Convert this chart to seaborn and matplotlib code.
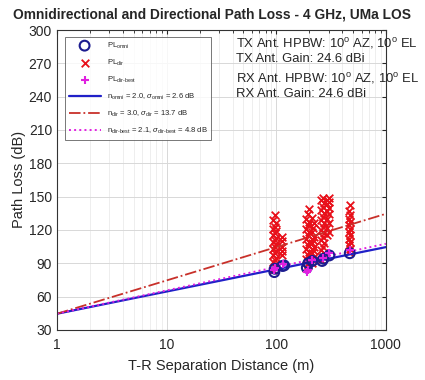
import numpy as np
import pandas as pd
import matplotlib
matplotlib.use('Agg')
import matplotlib.pyplot as plt
import matplotlib.ticker as mticker
import seaborn as sns

# measured omni path loss
omni_d = [96, 97, 114, 118, 190, 196, 213, 262, 270, 305, 468]
omni_pl = [82, 85, 87.5, 88, 86, 90, 92, 92, 94, 97, 99]

# best directional path loss
best_d = [95, 98, 115, 192, 196, 214, 265, 300, 470]
best_pl = [84, 86, 89, 82, 84, 93, 95, 99, 102]

# directional path loss (all pointing angles)
dir_d = ([94, 97, 99] * 8)[:23] + [114] * 5 + ([188, 193, 198] * 6) + ([210, 216, 222] * 5)[:13] \
    + ([258, 266, 274] * 7)[:20] + ([292, 300] * 6) + ([462, 468] * 7)
dir_pl = [84, 87, 89, 91, 93, 95, 97, 99, 101, 103, 105, 107, 109, 111, 113, 115, 117, 119, 121, 123, 126, 129, 133] \
    + [97, 101, 105, 110, 114] \
    + [86, 88, 91, 94, 97, 100, 103, 106, 109, 112, 115, 118, 121, 124, 127, 130, 134, 139] \
    + [90, 93, 96, 99, 102, 105, 108, 111, 114, 118, 122, 126, 131] \
    + [93, 96, 99, 102, 105, 108, 111, 114, 117, 120, 123, 126, 129, 132, 135, 138, 141, 144, 147, 149] \
    + [115, 118, 122, 126, 130, 134, 137, 140, 143, 145, 147, 149] \
    + [100, 103, 106, 109, 112, 115, 118, 121, 124, 127, 130, 133, 137, 142]

# fitted model lines (read at d = 1 m and 1000 m)
fit_d = [1, 1000]
fit_omni = [44.5, 104.5]
fit_dir = [44.5, 134.5]
fit_best = [44.5, 107.5]

sns.set_style('white')
plt.rcParams['font.family'] = ['Liberation Sans', 'DejaVu Sans']
plt.rcParams['mathtext.fontset'] = 'custom'
plt.rcParams['mathtext.rm'] = 'Liberation Sans'
plt.rcParams['mathtext.it'] = 'Liberation Sans:italic'

fig = plt.figure(figsize=(4.25, 3.8), dpi=100)
ax = fig.add_axes([0.134, 0.132, 0.774, 0.789])

navy = '#1c1c8f'
red = '#e8101a'
mag = '#e020e0'

sns.scatterplot(x=omni_d, y=omni_pl, marker='o', s=50, facecolors='none', edgecolor=navy,
                linewidth=1.5, ax=ax, label=r'PL$_{\mathrm{omni}}$', zorder=3)
sns.scatterplot(x=dir_d, y=dir_pl, marker='x', s=30, color=red, linewidth=1.3, ax=ax,
                label=r'PL$_{\mathrm{dir}}$', zorder=2)
sns.scatterplot(x=best_d, y=best_pl, marker='+', s=40, color=mag, linewidth=1.5, ax=ax,
                label=r'PL$_{\mathrm{dir\text{-}best}}$', zorder=4)
sns.lineplot(x=fit_d, y=fit_omni, color='#2020c8', linewidth=1.6, ax=ax,
             label=r'n$_{\mathrm{omni}}$ = 2.0, $\sigma_{\mathrm{omni}}$ = 2.6 dB')
sns.lineplot(x=fit_d, y=fit_dir, color='#c8302a', linewidth=1.3, linestyle='-.', ax=ax,
             label=r'n$_{\mathrm{dir}}$ = 3.0, $\sigma_{\mathrm{dir}}$ = 13.7 dB')
sns.lineplot(x=fit_d, y=fit_best, color=mag, linewidth=1.4, linestyle=':', ax=ax,
             label=r'n$_{\mathrm{dir\text{-}best}}$ = 2.1, $\sigma_{\mathrm{dir\text{-}best}}$ = 4.8 dB')

ax.set_xscale('log')
ax.set_xlim(1, 1000)
ax.set_ylim(30, 300)
ax.set_yticks(np.arange(30, 301, 30))
ax.set_xticks([1, 10, 100, 1000])
ax.xaxis.set_major_formatter(mticker.FixedFormatter(['1', '10', '100', '1000']))
ax.grid(True, which='major', color='#d8d8d8', linewidth=0.7)
ax.grid(True, which='minor', axis='x', color='#ebebeb', linewidth=0.6)
ax.tick_params(which='both', direction='in', top=True, right=True, labelsize=10, length=3)
ax.tick_params(axis='x', which='major', pad=6)
ax.tick_params(which='minor', length=2)
for sp in ax.spines.values():
    sp.set_color('#333333')
    sp.set_linewidth(0.8)

ax.set_xlabel('T-R Separation Distance (m)', fontsize=10.5, labelpad=5)
ax.set_ylabel('Path Loss (dB)', fontsize=10.5, labelpad=2)
ax.set_title('Omnidirectional and Directional Path Loss - 4 GHz, UMa LOS',
             fontsize=9.9, fontweight='bold', pad=8, x=0.47)

leg = ax.legend(loc='upper left', fontsize=5.5, frameon=True, fancybox=False,
                edgecolor='#555555', borderpad=0.5, labelspacing=0.9, handlelength=4.2,
                bbox_to_anchor=(0.012, 0.99))
leg.get_frame().set_linewidth(0.7)

ax.text(0.545, 0.955, r'TX Ant. HPBW: 10$^{\mathrm{o}}$ AZ, 10$^{\mathrm{o}}$ EL', transform=ax.transAxes,
        fontsize=9.4, va='center')
ax.text(0.545, 0.905, 'TX Ant. Gain: 24.6 dBi', transform=ax.transAxes, fontsize=9.4, va='center')
ax.text(0.545, 0.838, r'RX Ant. HPBW: 10$^{\mathrm{o}}$ AZ, 10$^{\mathrm{o}}$ EL', transform=ax.transAxes,
        fontsize=9.4, va='center')
ax.text(0.545, 0.785, 'RX Ant. Gain: 24.6 dBi', transform=ax.transAxes, fontsize=9.4, va='center')

plt.savefig('out.png', dpi=100)
